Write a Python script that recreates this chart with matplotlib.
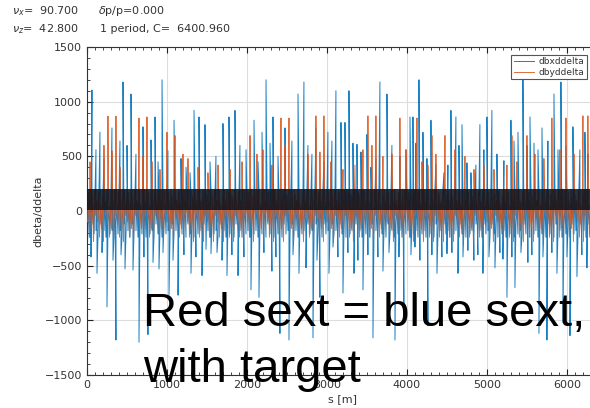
import numpy as np
import matplotlib
matplotlib.use("Agg")
import matplotlib.pyplot as plt
from matplotlib.ticker import MultipleLocator

# ---------------- data ----------------
C = 6400.96
nu_x, nu_z, dpp = 90.700, 42.800, 0.000

# large / medium spikes of dbx/ddelta : position s [m], value
bx_up_s = [62, 112, 162, 212, 312, 412, 450, 500, 550, 612, 700, 800, 850, 888, 938, 1012, 1088,
           1175, 1238, 1288, 1338, 1400, 1475, 1538, 1612, 1700, 1775, 1850, 1912, 1988, 2088,
           2138, 2188, 2238, 2288, 2325, 2388, 2475, 2562, 2638, 2712, 2762, 2812, 2862, 2962,
           3012, 3062, 3112, 3175, 3225, 3275, 3325, 3375, 3425, 3500, 3550, 3612, 3662, 3750,
           3812, 3912, 3988, 4038, 4075, 4112, 4150, 4200, 4250, 4300, 4362, 4462, 4512, 4550,
           4612, 4650, 4688, 4750, 4800, 4862, 4912, 4962, 5000, 5062, 5125, 5212, 5300, 5338,
           5388, 5450, 5500, 5538, 5588, 5638, 5688, 5762, 5838, 5888, 5925, 5988, 6075, 6162,
           6225, 6262]
bx_up_v = [1106, 560, 722, 480, 760, 640, 1180, 600, 1070, 520, 770, 650, 860, 450, 1200, 550, 830,
           480, 400, 350, 920, 860, 790, 450, 500, 800, 860, 920, 600, 560, 830,
           450, 720, 1200, 620, 860, 500, 760, 640, 1070, 1180, 600, 520, 760, 450,
           720, 640, 1100, 810, 810, 1100, 620, 610, 540, 700, 400, 480, 1180, 1070,
           600, 500, 560, 860, 860, 620, 1200, 720, 480, 830, 430, 350, 420, 920,
           860, 600, 790, 440, 350, 420, 790, 560, 860, 920, 520, 460, 830, 640,
           720, 1200, 600, 860, 620, 560, 760, 640, 1070, 560, 1180, 600, 770, 560,
           720, 520]
bx_dn_s = [0, 50, 125, 188, 250, 325, 362, 425, 475, 575, 650, 712, 762, 825, 900, 950, 1025, 1075,
           1138, 1212, 1300, 1362, 1438, 1488, 1550, 1625, 1688, 1750, 1812, 1888, 1962, 2050,
           2150, 2212, 2312, 2362, 2412, 2525, 2575, 2650, 2738, 2825, 2875, 2912, 3025, 3075,
           3137, 3200, 3262, 3338, 3387, 3450, 3512, 3575, 3637, 3700, 3775, 3850, 3900, 3962,
           4050, 4100, 4162, 4262, 4312, 4375, 4437, 4500, 4562, 4638, 4700, 4762, 4837, 4887,
           4950, 5025, 5100, 5162, 5200, 5250, 5312, 5350, 5425, 5512, 5562, 5650, 5700, 5750,
           5812, 5875, 5950, 6000, 6038, 6125, 6187, 6250]
bx_dn_v = [-356, -420, -570, -380, -877, -450, -1180, -400, -530, -540, -1200, -420, -1130, -470, -530,
           -380, -770, -450, -770, -400, -570, -420, -590, -350, -390, -380, -450, -590, -400, -590,
           -420, -720, -790, -380, -550, -420, -1120, -1180, -400, -570, -520, -1160, -450, -790,
           -570, -330, -420, -750, -380, -570, -450, -720, -400, -1160, -420, -550, -380, -1180,
           -420, -1020, -400, -330, -450, -1050, -400, -570, -420, -390, -380, -570, -420, -360,
           -450, -400, -570, -420, -520, -380, -440, -790, -420, -700, -380, -470, -400, -1120,
           -420, -1180, -380, -570, -1020, -420, -1140, -600, -400, -520]

# spikes of dby/ddelta
by_up_s = [38, 212, 262, 312, 362, 412, 650, 700, 750, 812, 912, 1000, 1100, 1200, 1262, 1388, 1512,
           1638, 1788, 1938, 2038, 2125, 2200, 2312, 2425, 2475, 2525, 2762, 2862, 2912, 2962,
           3050, 3200, 3350, 3450, 3512, 3562, 3612, 3700, 3812, 3912, 3988, 4125, 4188, 4262,
           4312, 4362, 4475, 4600, 4725, 4838, 4962, 5088, 5250, 5312, 5375, 5500, 5600, 5712,
           5812, 5912, 5988, 6088, 6200, 6262]
by_up_v = [450, 600, 868, 550, 868, 400, 850, 500, 860, 450, 380, 720, 690, 520, 480, 400, 350,
           420, 380, 450, 690, 520, 560, 420, 850, 600, 850, 520, 870, 540, 870,
           450, 380, 420, 560, 870, 600, 870, 500, 520, 850, 560, 850, 450, 420,
           690, 520, 690, 560, 500, 380, 420, 380, 420, 690, 450, 690, 520, 480,
           850, 560, 850, 520, 870, 870]

# periodic cell values of the dense lattice background (one cell, repeated along the ring)
bx_cell = [150, -180, 90, -240, 200, -120, 40, -210]
by_cell = [-100, 170, -240, 60, -160, 130, -280, 190, -40, 100]
cell_len = 12.5

# dark dense band of overlapping traces
band_lo, band_hi = 5, 200

# ---------------- build traces ----------------
grid = np.arange(0, C, cell_len)
bx_base = np.resize(bx_cell, grid.size)
by_base = np.resize(by_cell, grid.size)

def merge(base_s, base_v, *pairs):
    s = [np.asarray(base_s, float)]
    v = [np.asarray(base_v, float)]
    for ps, pv in pairs:
        s.append(np.asarray(ps, float))
        v.append(np.asarray(pv, float))
    s = np.concatenate(s)
    v = np.concatenate(v)
    o = np.argsort(s, kind="stable")
    return s[o], v[o]

sx, vx = merge(grid, bx_base, (bx_up_s, bx_up_v), (bx_dn_s, bx_dn_v))
sy, vy = merge(grid + cell_len / 2, by_base, (by_up_s, by_up_v))

# ---------------- figure ----------------
fig = plt.figure(figsize=(5.9, 4.08), dpi=100)
ax = fig.add_axes([87 / 590, 1 - 375 / 408, 512 / 590, 328 / 408])

blue = "#0072BD"
orange = "#D95319"
ax.plot(sx, vx, color=blue, lw=0.7, label="dbxddelta", zorder=2, alpha=0.9)
ax.plot(sy, vy, color=orange, lw=0.7, label="dbyddelta", zorder=3, alpha=0.85)
ax.fill_between([0, C], [band_lo, band_lo], [band_hi, band_hi], color="#0c1420",
                alpha=0.88, lw=0, zorder=4)

ax.set_xlim(0, C)
ax.set_ylim(-1500, 1500)
ax.xaxis.set_major_locator(MultipleLocator(1000))
ax.xaxis.set_minor_locator(MultipleLocator(100))
ax.yaxis.set_major_locator(MultipleLocator(500))
ax.yaxis.set_minor_locator(MultipleLocator(100))
ax.tick_params(which="both", direction="in", top=True, right=True, labelsize=8,
               colors="#222222", labelcolor="#333333")
ax.tick_params(which="major", length=4)
ax.tick_params(which="minor", length=2)
ax.grid(True, which="major", color="#dddddd", lw=0.8)
ax.set_axisbelow(True)
for sp in ax.spines.values():
    sp.set_color("#333333")
    sp.set_linewidth(0.8)

ax.set_xlabel("s [m]", fontsize=8, color="#333333", labelpad=3)
ax.set_ylabel("dbeta/ddelta", fontsize=8, color="#333333", labelpad=1)

leg = ax.legend(loc="upper right", bbox_to_anchor=(587 / 590, 1 - 55 / 408),
                bbox_transform=fig.transFigure, fontsize=6.5, frameon=True, fancybox=False,
                borderaxespad=0, handlelength=2.2, labelspacing=0.2, borderpad=0.25,
                handletextpad=0.6, framealpha=1)
leg.get_frame().set_edgecolor("#555555")
leg.get_frame().set_linewidth(0.8)
for t in leg.get_texts():
    t.set_color("#333333")

tc = "#333333"
fig.text(12 / 590, 1 - 14 / 408, r"$\nu_x$=  %6.3f" % nu_x, fontsize=8, color=tc, va="baseline")
fig.text(98 / 590, 1 - 14 / 408, r"$\delta$p/p=%.3f" % dpp, fontsize=8, color=tc, va="baseline")
fig.text(12 / 590, 1 - 32 / 408, r"$\nu_z$=  %6.3f" % nu_z, fontsize=8, color=tc, va="baseline")
fig.text(100 / 590, 1 - 32 / 408, "1 period, C=  %.3f" % C, fontsize=8, color=tc, va="baseline")

big = dict(fontsize=34, family=["Liberation Sans", "DejaVu Sans"], color="black",
           va="baseline", ha="left", zorder=10)
fig.text(143 / 590, 1 - 326 / 408, "Red sext = blue sext,", **big)
fig.text(143 / 590, 1 - 382 / 408, "with target", **big)

fig.savefig("out.png", dpi=100)
